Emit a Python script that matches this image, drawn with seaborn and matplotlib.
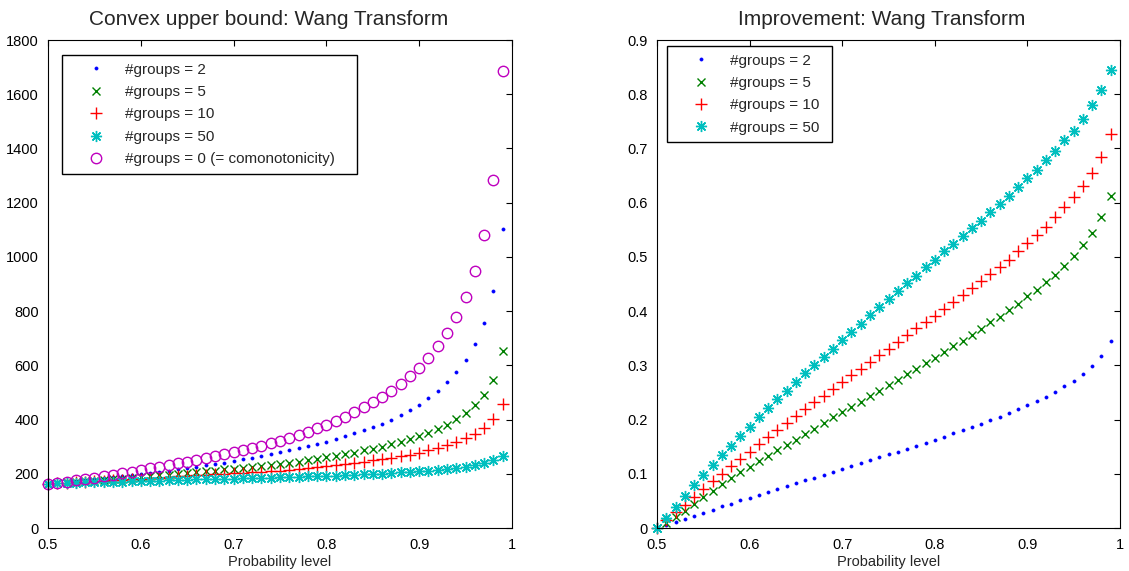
import numpy as np
import pandas as pd
import matplotlib
matplotlib.use("Agg")
import matplotlib.pyplot as plt
from matplotlib.ticker import FuncFormatter
import seaborn as sns

# ---------------- data ----------------
prob = [0.50, 0.51, 0.52, 0.53, 0.54, 0.55, 0.56, 0.57, 0.58, 0.59,
        0.60, 0.61, 0.62, 0.63, 0.64, 0.65, 0.66, 0.67, 0.68, 0.69,
        0.70, 0.71, 0.72, 0.73, 0.74, 0.75, 0.76, 0.77, 0.78, 0.79,
        0.80, 0.81, 0.82, 0.83, 0.84, 0.85, 0.86, 0.87, 0.88, 0.89,
        0.90, 0.91, 0.92, 0.93, 0.94, 0.95, 0.96, 0.97, 0.98, 0.99]

# Left panel: convex upper bound
cub_g2 = [164, 166, 169, 172, 176, 179, 183, 187, 191, 195,
          199, 203, 207, 212, 216, 221, 226, 231, 236, 241,
          247, 253, 259, 265, 272, 279, 287, 294, 301, 310,
          319, 328, 338, 349, 361, 373, 385, 400, 417, 434,
          455, 480, 507, 538, 575, 619, 678, 755, 876, 1103]
cub_g5 = [164, 166, 168, 170, 172, 175, 177, 180, 182, 185,
          188, 191, 194, 197, 200, 203, 206, 209, 212, 216,
          219, 222, 225, 228, 231, 235, 240, 245, 250, 255,
          261, 266, 272, 278, 286, 293, 300, 309, 319, 328,
          340, 352, 365, 381, 401, 423, 452, 489, 546, 652]
cub_g10 = [164, 165, 167, 169, 170, 172, 174, 176, 178, 180,
           182, 184, 186, 188, 190, 192, 194, 196, 198, 200,
           202, 204, 206, 208, 210, 212, 215, 218, 221, 224,
           227, 231, 235, 239, 244, 249, 254, 259, 265, 271,
           278, 286, 295, 305, 317, 332, 348, 369, 402, 459]
cub_g50 = [164, 165, 166, 167, 168, 168, 169, 170, 171, 172,
           173, 174, 175, 176, 177, 178, 179, 180, 181, 182,
           182, 183, 184, 185, 186, 187, 188, 189, 190, 191,
           192, 193, 195, 196, 198, 199, 201, 203, 205, 207,
           209, 211, 213, 216, 220, 225, 231, 239, 250, 264]
cub_comon = [164, 167, 171, 176, 181, 186, 191, 196, 202, 208,
             214, 220, 226, 233, 239, 245, 251, 257, 265, 272,
             279, 288, 295, 304, 314, 322, 332, 343, 354, 368,
             381, 396, 411, 428, 445, 464, 483, 507, 531, 559,
             590, 627, 670, 718, 778, 851, 947, 1079, 1282, 1685]

# Right panel: improvement
imp_g2 = [0.000, 0.005, 0.011, 0.016, 0.022, 0.028, 0.034, 0.040, 0.045, 0.051,
          0.056, 0.061, 0.067, 0.072, 0.077, 0.083, 0.088, 0.093, 0.098, 0.104,
          0.109, 0.114, 0.120, 0.125, 0.131, 0.136, 0.141, 0.146, 0.151, 0.157,
          0.163, 0.168, 0.175, 0.180, 0.186, 0.192, 0.199, 0.205, 0.212, 0.219,
          0.226, 0.234, 0.242, 0.251, 0.261, 0.271, 0.284, 0.299, 0.317, 0.344]
imp_g5 = [0.000, 0.010, 0.020, 0.032, 0.045, 0.057, 0.069, 0.081, 0.092, 0.103,
          0.113, 0.123, 0.133, 0.143, 0.153, 0.163, 0.173, 0.183, 0.193, 0.204,
          0.214, 0.223, 0.233, 0.243, 0.253, 0.263, 0.273, 0.284, 0.294, 0.304,
          0.314, 0.325, 0.335, 0.345, 0.356, 0.367, 0.379, 0.390, 0.402, 0.414,
          0.427, 0.439, 0.453, 0.467, 0.484, 0.502, 0.522, 0.544, 0.573, 0.613]
imp_g10 = [0.000, 0.014, 0.029, 0.043, 0.058, 0.072, 0.086, 0.100, 0.114, 0.128,
           0.141, 0.154, 0.168, 0.181, 0.194, 0.207, 0.219, 0.232, 0.244, 0.257,
           0.270, 0.282, 0.294, 0.306, 0.319, 0.331, 0.343, 0.356, 0.368, 0.379,
           0.391, 0.404, 0.417, 0.430, 0.442, 0.455, 0.469, 0.482, 0.495, 0.510,
           0.525, 0.541, 0.556, 0.573, 0.592, 0.610, 0.630, 0.655, 0.685, 0.727]
imp_g50 = [0.000, 0.019, 0.039, 0.059, 0.079, 0.098, 0.117, 0.135, 0.152, 0.170,
           0.187, 0.204, 0.221, 0.237, 0.253, 0.269, 0.286, 0.301, 0.316, 0.331,
           0.347, 0.362, 0.377, 0.392, 0.407, 0.422, 0.437, 0.451, 0.465, 0.481,
           0.495, 0.510, 0.524, 0.538, 0.553, 0.567, 0.582, 0.598, 0.613, 0.629,
           0.645, 0.661, 0.678, 0.696, 0.715, 0.733, 0.755, 0.780, 0.807, 0.844]

labels = ["#groups = 2", "#groups = 5", "#groups = 10", "#groups = 50",
          "#groups = 0 (= comonotonicity)"]
titles = ["Convex upper bound: Wang Transform", "Improvement: Wang Transform"]
xlabel = "Probability level"

# ---------------- style ----------------
sns.set_style("white")
plt.rcParams["font.family"] = ["Liberation Sans", "DejaVu Sans"]
plt.rcParams["axes.edgecolor"] = "black"
plt.rcParams["axes.linewidth"] = 0.8

col_b = (0.0, 0.0, 1.0)
col_g = (0.0, 0.5, 0.0)
col_r = (1.0, 0.0, 0.0)
col_c = (0.0, 0.75, 0.75)
col_m = (0.75, 0.0, 0.75)
star = (8, 2, 0)

styles = [
    dict(color=col_b, marker=".", markersize=4.5, mew=0.5, mec=col_b, mfc=col_b),
    dict(color=col_g, marker="x", markersize=6, mew=1.0, mec=col_g),
    dict(color=col_r, marker="+", markersize=8, mew=1.0, mec=col_r),
    dict(color=col_c, marker=star, markersize=8, mew=1.0, mec=col_c),
    dict(color=col_m, marker="o", markersize=7.5, mew=1.0, mec=col_m, mfc="none"),
]

fig = plt.figure(figsize=(11.29, 5.71), dpi=100)
axL = fig.add_axes([48 / 1129, 43 / 571, 464 / 1129, 488 / 571])
axR = fig.add_axes([657 / 1129, 43 / 571, 463 / 1129, 488 / 571])

left_series = [cub_g2, cub_g5, cub_g10, cub_g50, cub_comon]
right_series = [imp_g2, imp_g5, imp_g10, imp_g50]

for ys, lab, st in zip(left_series, labels, styles):
    sns.lineplot(x=prob, y=ys, ax=axL, label=lab, linestyle="none",
                 clip_on=False, **st)
for ys, lab, st in zip(right_series, labels[:4], styles[:4]):
    sns.lineplot(x=prob, y=ys, ax=axR, label=lab, linestyle="none",
                 clip_on=False, **st)

fmt = FuncFormatter(lambda v, p: "%g" % round(v, 4))
for ax, title, tx in zip([axL, axR], titles, [0.476, 0.485]):
    ax.set_xlim(0.5, 1.0)
    ax.set_xticks([0.5, 0.6, 0.7, 0.8, 0.9, 1.0])
    ax.xaxis.set_major_formatter(fmt)
    ax.yaxis.set_major_formatter(fmt)
    ax.tick_params(direction="in", top=True, right=True, length=4,
                   width=0.8, labelsize=10.5, colors="black")
    ax.tick_params(axis="x", pad=7.5)
    ax.tick_params(axis="y", pad=6.5)
    ax.set_title(title, fontsize=15, pad=10.5, x=tx)
    ax.set_xlabel(xlabel, fontsize=10.5, labelpad=2)
    ax.set_ylabel("")
    for s in ax.spines.values():
        s.set_visible(True)
        s.set_color("black")
        s.set_linewidth(0.8)

axL.set_ylim(0, 1800)
axL.set_yticks(list(range(0, 1801, 200)))
axR.set_ylim(0, 0.9)
axR.set_yticks([0, 0.1, 0.2, 0.3, 0.4, 0.5, 0.6, 0.7, 0.8, 0.9])

legkw = dict(loc="upper left", borderaxespad=0, fancybox=False, framealpha=1,
             edgecolor="black", fontsize=11, numpoints=1, handlelength=3.4,
             handletextpad=0.2, labelspacing=0.55, borderpad=0.5,
             mode="expand")
legL = axL.legend(bbox_to_anchor=(14 / 464, 1 - 15 / 488 - 0.01, 295 / 464, 0.01), **legkw)
legR = axR.legend(bbox_to_anchor=(10 / 463, 1 - 6 / 488 - 0.01, 165 / 463, 0.01), **legkw)
for leg in (legL, legR):
    leg.get_frame().set_linewidth(1.0)

fig.savefig("out.png", dpi=100)
